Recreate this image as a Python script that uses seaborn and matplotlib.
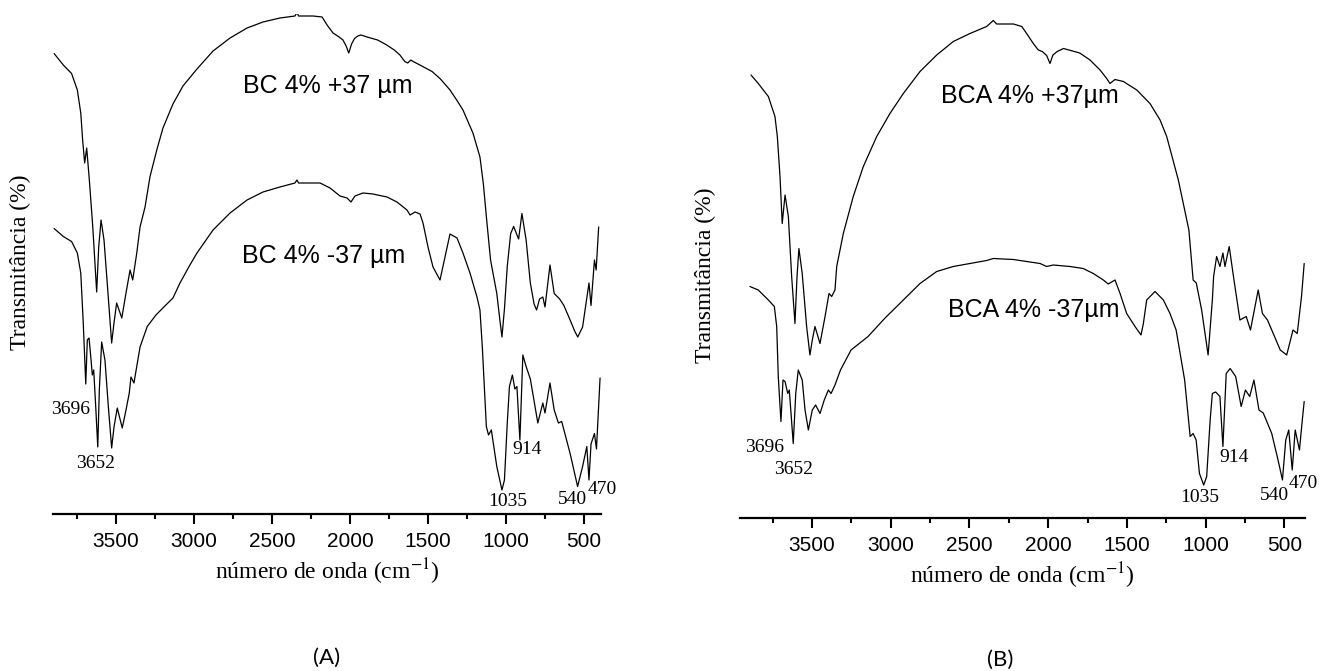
import matplotlib
matplotlib.use("Agg")
import matplotlib.pyplot as plt
from matplotlib.ticker import MultipleLocator
import seaborn as sns

# ---- values (wavenumber in cm-1, transmittance in arbitrary %) ----
# Panel A, BC 4% +37 um
a_top_wn = [3897, 3838, 3785, 3748, 3726, 3714, 3701, 3688, 3671, 3649, 3624, 3611, 3596,
            3577, 3553, 3528, 3513, 3496, 3463, 3436, 3410, 3393, 3367, 3346, 3314, 3282,
            3237, 3199, 3135, 3071, 2981, 2878, 2769, 2660, 2558, 2449, 2353, 2340, 2330,
            2237, 2179, 2147, 2109, 2070, 2045, 2025, 2008, 1990, 1971, 1950, 1930, 1880,
            1823, 1770, 1716, 1680, 1649, 1630, 1610, 1595, 1540, 1474, 1420, 1359, 1310,
            1276, 1212, 1167, 1145, 1126, 1099, 1059, 1040, 1026, 1010, 992, 970, 951, 932,
            919, 898, 871, 844, 820, 804, 785, 764, 750, 718, 691, 656, 629, 589, 560, 540,
            509, 468, 455, 433, 422, 406]
a_top_t = [92.1, 89.8, 88.1, 84.8, 80.2, 74.8, 70.2, 73.2, 66.8, 57.4, 44.4, 53.4, 58.8,
           54.8, 44.8, 34.2, 38.2, 42.2, 39.2, 44.2, 48.8, 46.8, 52.2, 57.4, 61.4, 67.5,
           73.0, 77.2, 82.0, 85.6, 89.0, 92.6, 95.2, 97.2, 98.4, 99.2, 99.6, 100.3, 99.6,
           99.6, 99.4, 97.8, 96.2, 95.4, 94.8, 93.6, 92.2, 94.0, 95.1, 95.6, 95.8, 95.3,
           94.8, 93.9, 92.8, 91.8, 90.5, 90.2, 90.8, 90.5, 89.6, 88.5, 87.0, 84.8, 82.5,
           80.8, 76.2, 71.4, 66.0, 59.5, 50.8, 44.1, 39.0, 35.4, 41.0, 49.5, 56.1, 57.5, 56.0,
           55.0, 60.1, 54.8, 46.2, 42.0, 40.8, 43.0, 43.4, 41.4, 49.8, 44.1, 43.0, 41.7, 38.8,
           36.6, 35.4, 37.4, 46.2, 41.7, 50.8, 48.8, 57.4]

# Panel A, BC 4% -37 um
a_bot_wn = [3897, 3838, 3785, 3748, 3726, 3710, 3694, 3684, 3673, 3660, 3652, 3643, 3630,
            3617, 3607, 3592, 3571, 3549, 3528, 3513, 3492, 3460, 3436, 3415, 3404, 3385,
            3346, 3300, 3244, 3190, 3135, 3090, 3030, 2981, 2878, 2769, 2660, 2558, 2449,
            2353, 2340, 2330, 2192, 2128, 2064, 2019, 1994, 1968, 1917, 1853, 1763, 1699,
            1635, 1615, 1583, 1551, 1532, 1500, 1468, 1423, 1391, 1359, 1314, 1276, 1231,
            1186, 1167, 1152, 1126, 1112, 1094, 1059, 1026, 1010, 992, 978, 959, 943, 930,
            911, 892, 871, 844, 796, 764, 750, 718, 691, 664, 643, 589, 541, 509, 482, 468,
            455, 433, 420, 397]
a_bot_t = [57.1, 55.5, 54.5, 52.2, 48.2, 38.2, 26.0, 34.8, 35.2, 30.8, 27.8, 28.8, 21.4,
           13.4, 24.8, 34.4, 30.8, 21.4, 13.2, 17.4, 21.2, 17.2, 20.8, 24.2, 27.4, 26.2,
           33.4, 37.5, 39.8, 41.5, 43.2, 46.2, 49.6, 52.2, 56.8, 60.2, 62.8, 64.4, 65.4,
           66.2, 66.8, 66.2, 66.2, 65.2, 63.6, 63.2, 62.4, 63.6, 64.2, 64.0, 63.4, 62.4,
           60.8, 59.8, 60.4, 60.0, 58.2, 53.4, 49.4, 46.8, 51.4, 56.0, 55.2, 52.2, 48.2,
           43.4, 40.8, 33.5, 17.5, 15.8, 16.8, 9.5, 4.8, 6.8, 18.1, 25.5, 27.8, 25.0, 25.5,
           14.8, 31.8, 29.5, 27.0, 18.2, 22.2, 20.2, 26.2, 20.8, 18.2, 18.5, 12.1, 5.5, 9.5,
           13.5, 6.8, 14.0, 16.1, 13.0, 27.2]

# Panel B, BCA 4% +37 um
b_top_wn = [3887, 3841, 3777, 3735, 3720, 3703, 3689, 3671, 3650, 3629, 3608, 3595, 3583,
            3562, 3534, 3513, 3498, 3481, 3449, 3417, 3392, 3375, 3354, 3343, 3301, 3238,
            3174, 3089, 3005, 2920, 2814, 2708, 2603, 2497, 2391, 2349, 2327, 2221, 2168,
            2137, 2095, 2063, 2038, 2010, 1989, 1970, 1943, 1903, 1800, 1735, 1671, 1629,
            1608, 1576, 1523, 1438, 1354, 1290, 1248, 1174, 1107, 1080, 1060, 1026, 985, 958,
            950, 931, 910, 891, 878, 851, 824, 783, 743, 716, 667, 640, 608, 581, 527, 486,
            446, 419, 392, 375]
b_top_t = [88.6, 86.9, 84.3, 80.3, 76.3, 68.3, 58.9, 64.6, 60.3, 48.3, 38.9, 48.3, 53.9,
           48.9, 38.3, 32.6, 35.6, 38.3, 34.9, 40.3, 44.9, 44.3, 45.6, 50.3, 56.9, 64.3,
           70.3, 76.3, 80.9, 84.9, 89.3, 92.6, 95.3, 96.9, 98.3, 99.5, 98.8, 98.8, 98.3,
           96.9, 94.9, 93.6, 93.3, 92.5, 90.9, 92.6, 93.3, 93.9, 93.0, 91.6, 89.6, 87.9,
           86.9, 87.7, 87.3, 85.6, 82.9, 79.6, 76.3, 67.6, 57.6, 47.6, 47.0, 41.6, 32.6, 43.6,
           48.3, 52.3, 50.3, 53.0, 50.3, 54.3, 48.3, 39.6, 40.3, 37.6, 45.6, 40.9, 39.6, 37.6,
           33.6, 32.6, 37.6, 36.9, 44.3, 50.9]

# Panel B, BCA 4% -37 um
b_bot_wn = [3894, 3841, 3777, 3739, 3724, 3714, 3697, 3684, 3671, 3654, 3644, 3619, 3603,
            3587, 3562, 3544, 3523, 3498, 3477, 3449, 3422, 3396, 3379, 3354, 3319, 3252,
            3144, 3036, 2920, 2814, 2708, 2603, 2497, 2391, 2349, 2221, 2137, 2052, 2010,
            1968, 1862, 1778, 1714, 1650, 1619, 1576, 1544, 1502, 1449, 1411, 1396, 1375,
            1322, 1269, 1227, 1188, 1134, 1099, 1080, 1061, 1040, 1013, 994, 972, 958, 937,
            910, 891, 870, 845, 810, 775, 748, 721, 694, 662, 635, 581, 541, 513, 492, 473,
            451, 432, 405, 387, 375]
b_bot_t = [46.3, 45.6, 43.6, 42.3, 38.3, 28.3, 19.3, 27.6, 27.3, 24.9, 25.6, 14.9, 24.9,
           29.6, 27.6, 21.6, 17.6, 21.6, 22.6, 20.9, 23.6, 25.6, 24.9, 26.6, 29.6, 33.6,
           36.3, 40.0, 43.6, 46.9, 49.3, 50.3, 50.9, 51.5, 51.9, 51.7, 51.3, 50.9, 50.3,
           50.6, 50.3, 49.9, 48.9, 47.6, 46.8, 47.6, 44.9, 40.9, 38.3, 36.6, 38.9, 43.6,
           45.3, 43.6, 40.9, 37.6, 27.6, 16.3, 16.9, 15.6, 8.9, 6.6, 8.3, 19.6, 24.9, 25.2,
           24.3, 14.3, 28.9, 29.9, 28.3, 22.3, 25.6, 24.3, 27.6, 21.6, 21.0, 16.9, 11.6, 7.6,
           15.6, 17.6, 9.6, 17.6, 13.6, 19.6, 23.3]

# peak labels: text, wavenumber, transmittance
a_peaks = [("3696", 3790, 21.0), ("3652", 3634, 10.0), ("914", 863, 12.8),
           ("1035", 992, 2.4), ("540", 576, 2.8), ("470", 380, 4.8)]
b_peaks = [("3696", 3798, 14.0), ("3652", 3619, 9.6), ("914", 818, 12.0),
           ("1035", 1040, 4.0), ("540", 567, 4.6), ("470", 378, 6.8)]

a_names = [("BC 4% +37 µm", 2145, 85.6), ("BC 4% -37 µm", 2172, 51.5)]
b_names = [("BCA 4% +37µm", 2119, 84.3), ("BCA 4% -37µm", 2092, 41.6)]

sns.set_style("white")
plt.rcParams["font.family"] = ["Liberation Sans", "DejaVu Sans"]
plt.rcParams["mathtext.fontset"] = "stix"
plt.rcParams["text.color"] = "black"
plt.rcParams["axes.labelcolor"] = "black"

fig = plt.figure(figsize=(13.24, 6.71), dpi=100)
axA = fig.add_axes([53 / 1324, 1 - 514 / 671, 548 / 1324, 500 / 671])
axB = fig.add_axes([740 / 1324, 1 - 518 / 671, 564.5 / 1324, 500 / 671])


def panel(ax, curves, names, peaks, xlim):
    for wn, t in curves:
        sns.lineplot(x=wn, y=t, ax=ax, color="black", lw=0.9, sort=False, estimator=None)
    ax.set_xlim(*xlim)
    ax.set_ylim(0, 100)
    for s in ["left", "top", "right"]:
        ax.spines[s].set_visible(False)
    ax.spines["bottom"].set_linewidth(1.6)
    ax.spines["bottom"].set_color("black")
    ax.xaxis.set_major_locator(MultipleLocator(500))
    ax.xaxis.set_minor_locator(MultipleLocator(250))
    ax.tick_params(axis="x", which="major", direction="out", length=7, width=1.5,
                   labelsize=15, pad=6, bottom=True, color="black", labelcolor="black")
    ax.tick_params(axis="x", which="minor", direction="out", length=3.5, width=1.5,
                   bottom=True, color="black")
    ax.set_yticks([])
    ax.set_ylabel("")
    ax.set_xlabel("número de onda (cm$^{-1}$)", family="Liberation Serif", fontsize=17,
                  labelpad=4)
    for txt, x, y in names:
        ax.text(x, y, txt, fontsize=18, ha="center", va="center", family="Liberation Sans")
    for txt, x, y in peaks:
        ax.text(x, y, txt, fontsize=14, ha="center", va="center", family="Liberation Serif")


panel(axA, [(a_top_wn, a_top_t), (a_bot_wn, a_bot_t)], a_names, a_peaks, (3904, 391))
panel(axB, [(b_top_wn, b_top_t), (b_bot_wn, b_bot_t)], b_names, b_peaks, (3957, 373))

fig.text(20 / 1324, 1 - 262 / 671, "Transmitância (%)", rotation=90, ha="center",
         va="center", family="Liberation Serif", fontsize=17)
fig.text(705 / 1324, 1 - 275 / 671, "Transmitância (%)", rotation=90, ha="center",
         va="center", family="Liberation Serif", fontsize=17)
fig.text(327 / 1324, 1 - 658 / 671, "(A)", ha="center", va="center", family="Lato", fontsize=16)
fig.text(1000 / 1324, 1 - 660 / 671, "(B)", ha="center", va="center", family="Lato", fontsize=16)

fig.savefig("out.png", dpi=100)
